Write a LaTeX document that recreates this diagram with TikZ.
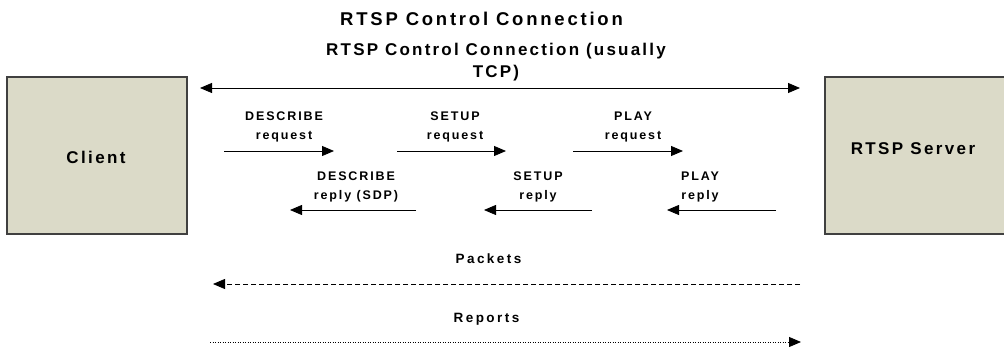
\documentclass[tikz,border=0pt]{standalone}
\usepackage{fontspec}
\usepackage{tikz}
\usetikzlibrary{arrows.meta}
\setmainfont{Liberation Sans}
\newfontfamily\headfont[LetterSpace=15]{Liberation Sans}
\newfontfamily\subfont[LetterSpace=13]{Liberation Sans}
\newfontfamily\hostfont[LetterSpace=14]{Liberation Sans}
\newfontfamily\lblfont[LetterSpace=15]{Liberation Sans}
\newfontfamily\mediafont[LetterSpace=18]{Liberation Sans}
\definecolor{boxfill}{RGB}{219,218,200}
\definecolor{boxline}{RGB}{64,64,64}

\begin{document}
\begin{tikzpicture}[x=1pt,y=-1pt,
    box/.style={draw=boxline,line width=1.2pt,fill=boxfill,minimum height=157pt,inner sep=0pt},
    host/.style={font=\hostfont\bfseries\fontsize{17}{20}\selectfont},
    lbl/.style={font=\lblfont\bfseries\fontsize{12.5}{19}\selectfont,align=center},
    media/.style={font=\mediafont\bfseries\fontsize{13.5}{15}\selectfont},
    msg/.style={line width=0.8pt,-{Triangle[length=12pt,width=10pt]}},
    conn/.style={line width=0.8pt,{Triangle[length=12pt,width=10pt]}-{Triangle[length=12pt,width=10pt]}}]
        \clip (0,0) rectangle (1004,347);
        \fill[white] (0,0) rectangle (1004,347);
        % hosts
        \draw (97,155.5) node[box,minimum width=180pt](client) {};
        \draw (96,157) node[host] (clientlbl) {Client};
        \draw (918,155.5) node[box,minimum width=186pt](server) {};
        \draw (913,149) node[host] (serverlbl) {RTSP Server};
        % titles
        \draw (481.5,19) node[font=\headfont\bfseries\fontsize{18.5}{22}\selectfont] (head) {RTSP Control Connection};
        \draw (496,62) node[font=\subfont\bfseries\fontsize{17}{22}\selectfont,align=center] (ctrllbl) {RTSP Control Connection (usually\\TCP)};
        % control connection
        \coordinate (ctrlA) at (200,88);
        \coordinate (ctrlB) at (800,88);
        \draw[conn] (ctrlA) -- (ctrlB);
        % requests
        \coordinate (dreqA) at (224,151);
        \coordinate (dreqB) at (334,151);
        \draw[msg] (dreqA) -- (dreqB);
        \draw (284,127) node[lbl] (dreq) {DESCRIBE\\request};
        \coordinate (sreqA) at (397,151);
        \coordinate (sreqB) at (506,151);
        \draw[msg] (sreqA) -- (sreqB);
        \draw (455,127) node[lbl] (sreq) {SETUP\\request};
        \coordinate (preqA) at (573,151);
        \coordinate (preqB) at (683,151);
        \draw[msg] (preqA) -- (preqB);
        \draw (633,127) node[lbl] (preq) {PLAY\\request};
        % replies
        \coordinate (drepA) at (416,210);
        \coordinate (drepB) at (290,210);
        \draw[msg] (drepA) -- (drepB);
        \draw (356,187) node[lbl] (drep) {DESCRIBE\\reply (SDP)};
        \coordinate (srepA) at (592,210);
        \coordinate (srepB) at (484,210);
        \draw[msg] (srepA) -- (srepB);
        \draw (538,187) node[lbl] (srep) {SETUP\\reply};
        \coordinate (prepA) at (776,210);
        \coordinate (prepB) at (667,210);
        \draw[msg] (prepA) -- (prepB);
        \draw (700,187) node[lbl] (prep) {PLAY\\reply};
        % media
        \coordinate (pktA) at (800,284);
        \coordinate (pktB) at (213,284);
        \draw[msg,dash pattern=on 5pt off 3pt] (pktA) -- (pktB);
        \draw (488.5,259) node[media] (pkt) {Packets};
        \coordinate (repA) at (210,342);
        \coordinate (repB) at (801,342);
        \draw[msg,dash pattern=on 1pt off 1.5pt] (repA) -- (repB);
        \draw (486.5,319) node[media] (rep) {Reports};
\end{tikzpicture}
\end{document}
